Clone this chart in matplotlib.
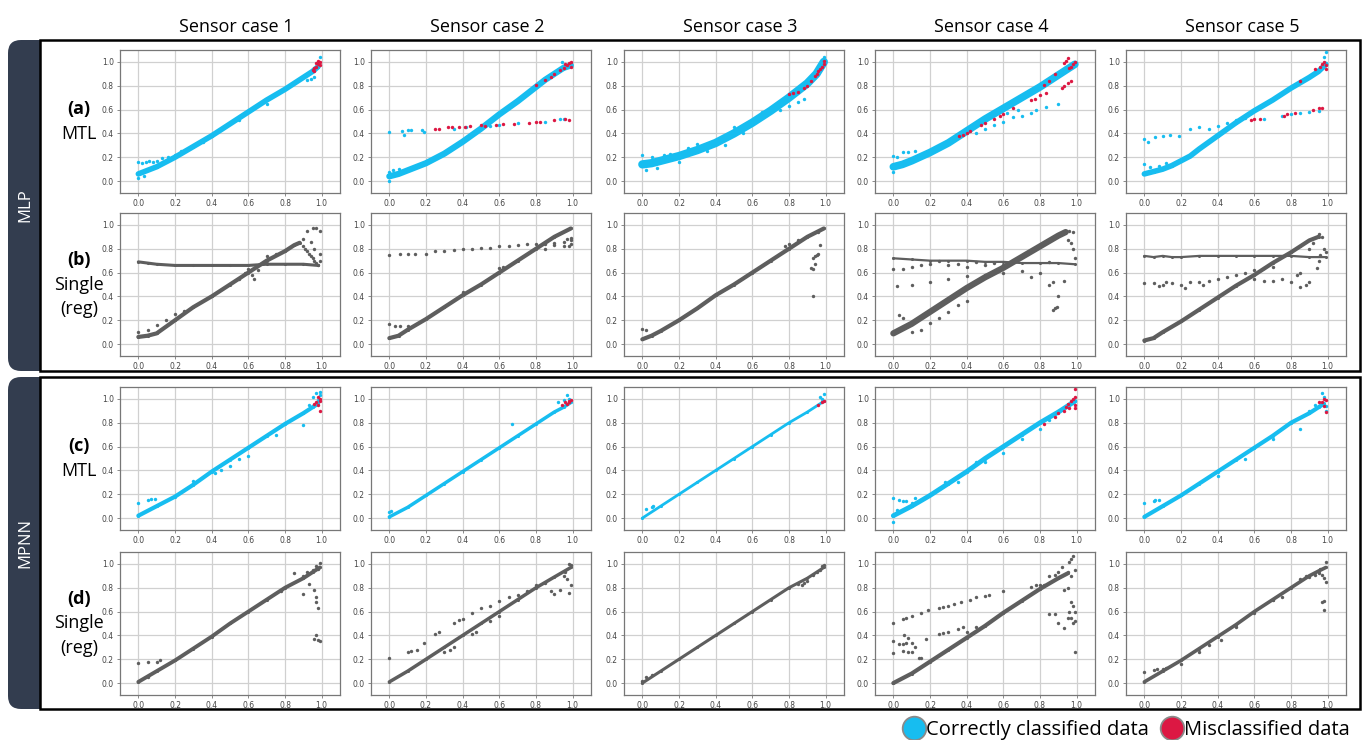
import matplotlib
matplotlib.use("Agg")
import matplotlib.pyplot as plt
from matplotlib.patches import FancyBboxPatch, Rectangle
from matplotlib.lines import Line2D
import numpy as np

plt.rcParams["font.family"] = ["Open Sans", "DejaVu Sans"]

BLUE = "#17bdf0"
RED = "#dc1843"
GREY = "#5e5e5e"

COLUMNS = ["Sensor case 1", "Sensor case 2", "Sensor case 3", "Sensor case 4", "Sensor case 5"]
MODELS = ["MLP", "MPNN"]
ROW_TAGS = ["(a)", "(b)", "(c)", "(d)"]
ROW_NAMES = [["MTL"], ["Single", "(reg)"], ["MTL"], ["Single", "(reg)"]]
TICKS = [0.0, 0.2, 0.4, 0.6, 0.8, 1.0]
LEGEND_LABELS = ["Correctly classified data", "Misclassified data"]

# ---- MLP / MTL (row a) ----
A1_BAND = [(0, 0.06), (0.05, 0.09), (0.1, 0.12), (0.2, 0.2), (0.3, 0.29), (0.4, 0.38), (0.5, 0.48),
           (0.6, 0.58), (0.7, 0.68), (0.8, 0.77), (0.9, 0.87), (0.95, 0.92), (0.98, 0.96)]
A1_DOTS = [(0, 0.16), (0.02, 0.15), (0.04, 0.16), (0.06, 0.17), (0.08, 0.16), (0.1, 0.17), (0.13, 0.19),
           (0.16, 0.2), (0.2, 0.22), (0.23, 0.25), (0.92, 0.85), (0.94, 0.86), (0.96, 0.87), (0.99, 1.04),
           (0, 0.03), (0.03, 0.04), (0.35, 0.33), (0.55, 0.51), (0.7, 0.65)]
A1_RED = [(0.95, 0.93), (0.96, 0.95), (0.97, 0.96), (0.98, 0.98), (0.99, 1.0), (0.98, 1.01), (0.99, 0.97),
          (0.97, 0.99), (0.96, 0.92)]

A2_BAND = [(0, 0.04), (0.05, 0.06), (0.1, 0.09), (0.2, 0.15), (0.3, 0.23), (0.4, 0.33), (0.5, 0.44),
           (0.55, 0.5), (0.6, 0.56), (0.7, 0.67), (0.8, 0.79), (0.85, 0.85), (0.9, 0.9), (0.95, 0.95), (0.99, 0.97)]
A2_DOTS = [(0, 0.41), (0.07, 0.42), (0.08, 0.39), (0.1, 0.43), (0.12, 0.43), (0.18, 0.43), (0.19, 0.41),
           (0.35, 0.44), (0.42, 0.45), (0.55, 0.46), (0.6, 0.47), (0.7, 0.49), (0.85, 0.5), (0.93, 0.52),
           (0.95, 0.52), (0, 0.08), (0, 0.0), (0.94, 1.0), (0.02, 0.09), (0.05, 0.1)]
A2_RED = [(0.25, 0.44), (0.27, 0.44), (0.32, 0.45), (0.34, 0.45), (0.38, 0.45), (0.41, 0.45), (0.44, 0.46),
          (0.5, 0.47), (0.52, 0.46), (0.58, 0.47), (0.62, 0.48), (0.68, 0.48), (0.76, 0.49), (0.8, 0.5),
          (0.82, 0.5), (0.9, 0.51), (0.96, 0.52), (0.98, 0.51), (0.8, 0.81), (0.85, 0.85), (0.88, 0.87),
          (0.9, 0.9), (0.93, 0.93), (0.95, 0.95), (0.97, 0.97), (0.98, 0.99), (0.99, 0.96), (0.96, 0.98), (0.99, 1.0)]

A3_BAND = [(0, 0.14), (0.05, 0.15), (0.1, 0.17), (0.2, 0.21), (0.3, 0.26), (0.4, 0.32), (0.5, 0.4),
           (0.6, 0.49), (0.7, 0.59), (0.8, 0.7), (0.9, 0.82), (0.95, 0.9), (0.99, 1.0)]
A3_DOTS = [(0, 0.22), (0.02, 0.09), (0.05, 0.2), (0.12, 0.22), (0.2, 0.16), (0.3, 0.31), (0.45, 0.3),
           (0.75, 0.6), (0.8, 0.63), (0.85, 0.66), (0.88, 0.69), (0.99, 1.04), (0.08, 0.11), (0.15, 0.23),
           (0.25, 0.28), (0.35, 0.25), (0.5, 0.45), (0.55, 0.4), (0.65, 0.58)]
A3_RED = [(0.8, 0.73), (0.82, 0.74), (0.85, 0.75), (0.88, 0.78), (0.9, 0.8), (0.92, 0.84), (0.94, 0.88),
          (0.95, 0.9), (0.96, 0.92), (0.97, 0.94), (0.98, 0.96), (0.99, 0.98), (0.99, 1.01)]

A4_BAND = [(0, 0.12), (0.05, 0.14), (0.1, 0.17), (0.2, 0.24), (0.3, 0.32), (0.4, 0.42), (0.5, 0.52),
           (0.6, 0.61), (0.7, 0.7), (0.8, 0.79), (0.9, 0.89), (0.95, 0.94), (0.99, 0.98)]
A4_DOTS = [(0.45, 0.4), (0.5, 0.44), (0.55, 0.47), (0.6, 0.5), (0.65, 0.54), (0.7, 0.55), (0.75, 0.57),
           (0.78, 0.6), (0.83, 0.62), (0.9, 0.65), (0, 0.21), (0.02, 0.2), (0.05, 0.24), (0.08, 0.24),
           (0.12, 0.25), (0, 0.08), (0.62, 0.57), (0.68, 0.6)]
A4_RED = [(0.36, 0.38), (0.38, 0.39), (0.4, 0.4), (0.42, 0.42), (0.48, 0.47), (0.5, 0.49), (0.55, 0.52),
          (0.58, 0.55), (0.6, 0.56), (0.65, 0.61), (0.75, 0.68), (0.77, 0.69), (0.8, 0.72), (0.83, 0.74),
          (0.82, 0.81), (0.85, 0.84), (0.88, 0.9), (0.92, 0.78), (0.93, 0.8), (0.95, 0.82), (0.97, 0.84),
          (0.93, 0.99), (0.95, 1.03), (0.94, 1.01), (0.97, 0.96), (0.98, 0.98), (0.99, 1.0), (0.96, 0.95)]

A5_BAND = [(0, 0.06), (0.05, 0.08), (0.1, 0.1), (0.15, 0.13), (0.2, 0.17), (0.25, 0.21), (0.3, 0.27),
           (0.4, 0.38), (0.5, 0.49), (0.6, 0.59), (0.7, 0.68), (0.8, 0.78), (0.9, 0.87), (0.95, 0.92), (0.99, 0.98)]
A5_DOTS = [(0, 0.35), (0.02, 0.33), (0.06, 0.37), (0.1, 0.38), (0.14, 0.39), (0.19, 0.38), (0.25, 0.44),
           (0.3, 0.45), (0.35, 0.44), (0.4, 0.46), (0.45, 0.49), (0.5, 0.51), (0.55, 0.53), (0.65, 0.52),
           (0.75, 0.55), (0.8, 0.56), (0.85, 0.57), (0.9, 0.58), (0.95, 0.59), (0.99, 1.08), (0.98, 1.04),
           (0, 0.14), (0.03, 0.12), (0.08, 0.13), (0.12, 0.15)]
A5_RED = [(0.58, 0.51), (0.6, 0.52), (0.63, 0.52), (0.76, 0.55), (0.78, 0.56), (0.82, 0.57), (0.92, 0.6),
          (0.95, 0.61), (0.97, 0.61), (0.85, 0.84), (0.93, 0.94), (0.96, 0.96), (0.97, 0.98), (0.98, 1.0),
          (0.99, 0.97), (0.99, 0.94)]

# ---- MLP / Single (row b) ----
B1_BAND = [(0, 0.06), (0.05, 0.07), (0.1, 0.09), (0.2, 0.2), (0.3, 0.31), (0.4, 0.4), (0.5, 0.5),
           (0.6, 0.6), (0.7, 0.7), (0.8, 0.78), (0.85, 0.83), (0.88, 0.85)]
B1_TRACK = [(0, 0.69), (0.05, 0.68), (0.1, 0.67), (0.2, 0.66), (0.3, 0.66), (0.4, 0.66), (0.5, 0.66),
            (0.6, 0.66), (0.7, 0.67), (0.8, 0.67), (0.9, 0.67), (0.98, 0.66)]
B1_DOTS = [(0, 0.1), (0.05, 0.12), (0.1, 0.16), (0.15, 0.2), (0.92, 0.95), (0.95, 0.97), (0.97, 0.97),
           (0.99, 0.95), (0.6, 0.63), (0.62, 0.58), (0.65, 0.62), (0.58, 0.6), (0.55, 0.55), (0.63, 0.55),
           (0.94, 0.86), (0.96, 0.8), (0.99, 0.76), (0.99, 0.7), (0.9, 0.82), (0.91, 0.8), (0.92, 0.78),
           (0.93, 0.76), (0.94, 0.74), (0.95, 0.72), (0.96, 0.7), (0.97, 0.68), (0.98, 0.66), (0.9, 0.88),
           (0.2, 0.25), (0.25, 0.28), (0.7, 0.74), (0.75, 0.76)]

B2_BAND = [(0, 0.05), (0.05, 0.07), (0.1, 0.12), (0.2, 0.21), (0.3, 0.31), (0.4, 0.41), (0.5, 0.5),
           (0.6, 0.6), (0.7, 0.7), (0.8, 0.8), (0.9, 0.9), (0.99, 0.97)]
B2_DOTS = [(0, 0.75), (0.06, 0.76), (0.1, 0.76), (0.14, 0.76), (0.2, 0.76), (0.25, 0.78), (0.3, 0.78),
           (0.35, 0.79), (0.4, 0.8), (0.45, 0.8), (0.5, 0.81), (0.55, 0.81), (0.6, 0.82), (0.65, 0.82),
           (0.7, 0.83), (0.75, 0.84), (0.8, 0.84), (0.85, 0.84), (0.9, 0.85), (0.95, 0.86), (0.99, 0.87),
           (0.85, 0.8), (0.9, 0.83), (0.95, 0.82), (0.98, 0.82), (0.99, 0.84), (0.99, 0.89), (0.97, 0.88),
           (0, 0.17), (0.03, 0.15), (0.06, 0.15), (0.1, 0.15), (0.4, 0.44), (0.6, 0.64), (0.62, 0.65)]

B3_BAND = [(0, 0.04), (0.05, 0.07), (0.1, 0.11), (0.2, 0.2), (0.3, 0.3), (0.4, 0.41), (0.5, 0.5),
           (0.6, 0.6), (0.7, 0.7), (0.8, 0.8), (0.9, 0.9), (0.99, 0.97)]
B3_DOTS = [(0, 0.13), (0.02, 0.12), (0.78, 0.82), (0.8, 0.84), (0.85, 0.87), (0.93, 0.72), (0.94, 0.67),
           (0.92, 0.64), (0.93, 0.63), (0.95, 0.75), (0.96, 0.76), (0.97, 0.83), (0.93, 0.4), (0.94, 0.74),
           (0.96, 0.94)]

B4_BAND = [(0, 0.09), (0.1, 0.17), (0.2, 0.27), (0.3, 0.37), (0.4, 0.47), (0.5, 0.56), (0.6, 0.64),
           (0.7, 0.73), (0.8, 0.82), (0.9, 0.91), (0.94, 0.94)]
B4_TRACK = [(0, 0.72), (0.1, 0.71), (0.2, 0.7), (0.3, 0.7), (0.4, 0.7), (0.5, 0.69), (0.6, 0.69),
            (0.7, 0.68), (0.8, 0.68), (0.9, 0.68), (0.99, 0.67)]
B4_DOTS = [(0, 0.63), (0.05, 0.63), (0.1, 0.65), (0.15, 0.66), (0.2, 0.67), (0.3, 0.66), (0.4, 0.65),
           (0.5, 0.66), (0.6, 0.66), (0.02, 0.49), (0.1, 0.5), (0.2, 0.52), (0.3, 0.55), (0.4, 0.57),
           (0.5, 0.58), (0.6, 0.6), (0.7, 0.61), (0.75, 0.56), (0.8, 0.6), (0.85, 0.5), (0.87, 0.52),
           (0.95, 0.87), (0.97, 0.85), (0.98, 0.8), (0.99, 0.72), (0.93, 0.53), (0.9, 0.4), (0.88, 0.3),
           (0.87, 0.29), (0.89, 0.31), (0.1, 0.1), (0.15, 0.12), (0.2, 0.18), (0.25, 0.22), (0.3, 0.27),
           (0.35, 0.33), (0.4, 0.36), (0.03, 0.24), (0.05, 0.22), (0.96, 0.95), (0.98, 0.94),
           (0.25, 0.7), (0.45, 0.69), (0.65, 0.7), (0.85, 0.69), (0.35, 0.67), (0.55, 0.68)]

B5_BAND = [(0, 0.03), (0.05, 0.05), (0.1, 0.1), (0.2, 0.19), (0.3, 0.29), (0.4, 0.39), (0.5, 0.49),
           (0.6, 0.58), (0.7, 0.68), (0.8, 0.77), (0.85, 0.82), (0.9, 0.87), (0.95, 0.9)]
B5_TRACK = [(0, 0.74), (0.05, 0.73), (0.1, 0.74), (0.15, 0.73), (0.2, 0.73), (0.3, 0.74), (0.4, 0.74),
            (0.5, 0.74), (0.6, 0.74), (0.7, 0.74), (0.8, 0.74), (0.9, 0.73), (0.99, 0.73)]
B5_DOTS = [(0, 0.51), (0.05, 0.51), (0.1, 0.5), (0.15, 0.51), (0.2, 0.5), (0.25, 0.52), (0.3, 0.52),
           (0.35, 0.53), (0.4, 0.55), (0.45, 0.56), (0.5, 0.58), (0.55, 0.6), (0.6, 0.62), (0.65, 0.64),
           (0.7, 0.65), (0.6, 0.55), (0.65, 0.53), (0.7, 0.53), (0.75, 0.55), (0.8, 0.52), (0.85, 0.48),
           (0.88, 0.5), (0.9, 0.52), (0.83, 0.58), (0.85, 0.6), (0.9, 0.8), (0.92, 0.85), (0.95, 0.92),
           (0.97, 0.9), (0.98, 0.8), (0.96, 0.75), (0.95, 0.7), (0.94, 0.64), (0.99, 0.77),
           (0.08, 0.49), (0.12, 0.52), (0.22, 0.47), (0.32, 0.5)]

# ---- MPNN / MTL (row c) ----
C1_BAND = [(0, 0.02), (0.1, 0.1), (0.2, 0.18), (0.3, 0.28), (0.4, 0.39), (0.5, 0.49), (0.6, 0.59),
           (0.7, 0.69), (0.8, 0.79), (0.9, 0.88), (0.95, 0.93), (0.98, 0.96)]
C1_DOTS = [(0, 0.13), (0.05, 0.15), (0.07, 0.16), (0.09, 0.16), (0.3, 0.31), (0.42, 0.38), (0.45, 0.4),
           (0.5, 0.44), (0.55, 0.5), (0.6, 0.52), (0.75, 0.7), (0.9, 0.78), (0.93, 0.95), (0.95, 1.02),
           (0.97, 1.05), (0.99, 1.06), (0.98, 0.99), (0.99, 1.03)]
C1_RED = [(0.96, 0.96), (0.97, 0.97), (0.98, 0.95), (0.99, 0.98), (0.99, 1.0), (0.98, 1.02), (0.99, 0.9)]

C2_BAND = [(0, 0.01), (0.1, 0.09), (0.2, 0.19), (0.3, 0.29), (0.4, 0.39), (0.5, 0.49), (0.6, 0.59),
           (0.7, 0.69), (0.8, 0.79), (0.9, 0.89), (0.95, 0.93), (0.99, 0.97)]
C2_DOTS = [(0, 0.05), (0.01, 0.06), (0.67, 0.79), (0.92, 0.97), (0.95, 0.99), (0.97, 1.03), (0.98, 1.0)]
C2_RED = [(0.94, 0.95), (0.96, 0.97), (0.97, 0.96), (0.98, 0.97), (0.99, 0.99), (0.98, 0.98)]

C3_BAND = [(0, 0.0), (0.1, 0.1), (0.2, 0.2), (0.3, 0.3), (0.4, 0.4), (0.5, 0.5), (0.6, 0.6),
           (0.7, 0.7), (0.8, 0.8), (0.9, 0.89), (0.99, 0.98)]
C3_DOTS = [(0.02, 0.08), (0.05, 0.09), (0.06, 0.1), (0.98, 1.0), (0.99, 1.04), (0.97, 1.02)]
C3_RED = [(0.96, 0.95), (0.98, 0.97), (0.99, 0.98)]

C4_BAND = [(0, 0.02), (0.1, 0.1), (0.2, 0.19), (0.3, 0.29), (0.4, 0.39), (0.5, 0.5), (0.6, 0.6),
           (0.7, 0.7), (0.8, 0.8), (0.9, 0.89), (0.95, 0.94), (0.99, 0.98)]
C4_DOTS = [(0, 0.17), (0.03, 0.15), (0.05, 0.14), (0.07, 0.14), (0.1, 0.13), (0.12, 0.17), (0, -0.03),
           (0.02, 0.07), (0.35, 0.3), (0.5, 0.47), (0.6, 0.55), (0.7, 0.66), (0.8, 0.75), (0.85, 0.82),
           (0.28, 0.3), (0.45, 0.47)]
C4_RED = [(0.82, 0.79), (0.88, 0.85), (0.9, 0.88), (0.93, 0.9), (0.94, 0.93), (0.95, 0.96), (0.96, 0.92),
          (0.97, 0.98), (0.98, 1.0), (0.99, 1.02), (0.99, 1.08), (0.99, 0.95), (0.99, 0.92)]

C5_BAND = [(0, 0.01), (0.1, 0.1), (0.2, 0.19), (0.3, 0.29), (0.4, 0.39), (0.5, 0.49), (0.6, 0.59),
           (0.7, 0.69), (0.8, 0.8), (0.9, 0.88), (0.95, 0.93), (0.98, 0.96)]
C5_DOTS = [(0, 0.13), (0.05, 0.14), (0.06, 0.15), (0.08, 0.15), (0.4, 0.35), (0.55, 0.5), (0.7, 0.66),
           (0.85, 0.75), (0.9, 0.9), (0.93, 0.95), (0.97, 1.05), (0.98, 1.02), (0.99, 0.9), (0.99, 0.94)]
C5_RED = [(0.95, 0.97), (0.97, 0.97), (0.98, 1.0), (0.99, 0.99), (0.98, 0.94), (0.99, 0.89)]

# ---- MPNN / Single (row d) ----
D1_BAND = [(0, 0.01), (0.1, 0.1), (0.2, 0.19), (0.3, 0.29), (0.4, 0.39), (0.5, 0.5), (0.6, 0.6),
           (0.7, 0.7), (0.8, 0.8), (0.9, 0.88), (0.95, 0.93), (0.99, 0.97)]
D1_DOTS = [(0, 0.17), (0.05, 0.18), (0.1, 0.18), (0.12, 0.19), (0.05, 0.05), (0.9, 0.9), (0.92, 0.93),
           (0.95, 0.95), (0.97, 0.98), (0.99, 1.01), (0.98, 0.96), (0.85, 0.92), (0.9, 0.75), (0.93, 0.83),
           (0.96, 0.78), (0.97, 0.72), (0.97, 0.68), (0.98, 0.63), (0.97, 0.4), (0.98, 0.36), (0.99, 0.35),
           (0.96, 0.37), (0.78, 0.77)]

D2_BAND = [(0, 0.01), (0.1, 0.1), (0.2, 0.2), (0.3, 0.3), (0.4, 0.4), (0.5, 0.5), (0.6, 0.6),
           (0.7, 0.7), (0.8, 0.8), (0.9, 0.89), (0.99, 0.97)]
D2_DOTS = [(0, 0.21), (0.1, 0.26), (0.12, 0.27), (0.15, 0.28), (0.19, 0.34), (0.25, 0.41), (0.27, 0.43),
           (0.35, 0.5), (0.38, 0.53), (0.4, 0.54), (0.45, 0.59), (0.5, 0.63), (0.55, 0.65), (0.6, 0.69),
           (0.65, 0.72), (0.7, 0.74), (0.75, 0.77), (0.8, 0.82), (0.85, 0.84), (0.3, 0.26), (0.33, 0.28),
           (0.35, 0.3), (0.45, 0.41), (0.47, 0.43), (0.55, 0.52), (0.6, 0.56), (0.88, 0.77), (0.9, 0.75),
           (0.93, 0.78), (0.98, 0.76), (0.99, 0.82), (0.97, 0.87), (0.95, 0.9), (0.96, 0.93), (0.98, 1.0),
           (0.99, 0.99)]

D3_BAND = [(0, 0.0), (0.1, 0.1), (0.2, 0.2), (0.3, 0.3), (0.4, 0.4), (0.5, 0.5), (0.6, 0.6),
           (0.7, 0.7), (0.8, 0.8), (0.9, 0.88), (0.99, 0.97)]
D3_DOTS = [(0, 0.02), (0.02, 0.05), (0.05, 0.07), (0.85, 0.83), (0.88, 0.84), (0.9, 0.86), (0.93, 0.91),
           (0.95, 0.93), (0.97, 0.95), (0.99, 0.99), (0.98, 0.98), (0.87, 0.82)]

D4_BAND = [(0, 0.0), (0.1, 0.08), (0.2, 0.18), (0.3, 0.28), (0.4, 0.38), (0.5, 0.48), (0.6, 0.59),
           (0.7, 0.69), (0.8, 0.79), (0.9, 0.88), (0.95, 0.92)]
D4_DOTS = [(0, 0.5), (0.05, 0.54), (0.07, 0.55), (0.1, 0.56), (0.15, 0.59), (0.19, 0.61), (0.25, 0.63),
           (0.27, 0.64), (0.3, 0.65), (0.33, 0.66), (0.37, 0.68), (0.42, 0.7), (0.45, 0.72), (0.5, 0.73),
           (0.52, 0.74), (0, 0.35), (0, 0.25), (0.03, 0.33), (0.05, 0.33), (0.07, 0.34), (0.1, 0.34),
           (0.12, 0.3), (0.05, 0.27), (0.08, 0.26), (0.1, 0.26), (0.14, 0.21), (0.15, 0.21), (0.06, 0.4),
           (0.08, 0.38), (0.18, 0.37), (0.25, 0.41), (0.3, 0.43), (0.27, 0.42), (0.35, 0.45), (0.38, 0.47),
           (0.4, 0.43), (0.45, 0.47), (0.75, 0.81), (0.8, 0.82), (0.85, 0.9), (0.88, 0.91), (0.9, 0.93),
           (0.92, 0.97), (0.95, 0.93), (0.97, 0.9), (0.99, 0.95), (0.96, 1.02), (0.97, 1.04), (0.98, 1.07),
           (0.95, 0.8), (0.93, 0.78), (0.97, 0.68), (0.98, 0.65), (0.99, 0.6), (0.97, 0.55), (0.98, 0.5),
           (0.93, 0.46), (0.9, 0.5), (0.88, 0.58), (0.85, 0.58), (0.95, 0.55), (0.99, 0.26), (0.96, 0.6),
           (0.99, 0.52), (0.82, 0.82), (0.78, 0.82), (0.6, 0.77)]

D5_BAND = [(0, 0.01), (0.1, 0.1), (0.2, 0.19), (0.3, 0.29), (0.4, 0.39), (0.5, 0.49), (0.6, 0.6),
           (0.7, 0.7), (0.8, 0.8), (0.9, 0.9), (0.95, 0.94), (0.99, 0.97)]
D5_DOTS = [(0, 0.09), (0.05, 0.11), (0.07, 0.12), (0.1, 0.12), (0.12, 0.13), (0.2, 0.16), (0.3, 0.26),
           (0.35, 0.32), (0.42, 0.36), (0.5, 0.47), (0.6, 0.59), (0.7, 0.7), (0.75, 0.72), (0.85, 0.87),
           (0.88, 0.9), (0.9, 0.89), (0.93, 0.91), (0.95, 0.92), (0.97, 0.91), (0.98, 0.88), (0.99, 0.85),
           (0.97, 0.68), (0.98, 0.69), (0.98, 0.61), (0.99, 1.02), (0.96, 0.96)]

# panel contents: (band lines, stray dots, misclassified dots)
PANELS = [
    [([A1_BAND], A1_DOTS, A1_RED), ([A2_BAND], A2_DOTS, A2_RED), ([A3_BAND], A3_DOTS, A3_RED),
     ([A4_BAND], A4_DOTS, A4_RED), ([A5_BAND], A5_DOTS, A5_RED)],
    [([B1_BAND, B1_TRACK], B1_DOTS, []), ([B2_BAND], B2_DOTS, []), ([B3_BAND], B3_DOTS, []),
     ([B4_BAND, B4_TRACK], B4_DOTS, []), ([B5_BAND, B5_TRACK], B5_DOTS, [])],
    [([C1_BAND], C1_DOTS, C1_RED), ([C2_BAND], C2_DOTS, C2_RED), ([C3_BAND], C3_DOTS, C3_RED),
     ([C4_BAND], C4_DOTS, C4_RED), ([C5_BAND], C5_DOTS, C5_RED)],
    [([D1_BAND], D1_DOTS, []), ([D2_BAND], D2_DOTS, []), ([D3_BAND], D3_DOTS, []),
     ([D4_BAND], D4_DOTS, []), ([D5_BAND], D5_DOTS, [])],
]

# line widths (pt) of the dense bands, same layout as PANELS
BAND_LW = [
    [[4], [4.5], [6], [5.5], [4]],
    [[3, 2.2], [3], [3], [4.5, 1.6], [3, 1.6]],
    [[3], [2.5], [2], [3.5], [3]],
    [[2.8], [2.5], [2.2], [3], [2.6]],
]
ROW_COLOR = [BLUE, GREY, BLUE, GREY]

# layout in pixels
W, H = 1370, 740
COL_LEFT = [120, 371, 624, 875, 1126]
ROW_TOP = [50, 213, 387, 552]
AX_W, AX_H = 220, 143

fig = plt.figure(figsize=(W / 100, H / 100), dpi=100)

bg = fig.add_axes([0, 0, 1, 1], zorder=0)
bg.set_xlim(0, W)
bg.set_ylim(H, 0)
bg.axis("off")

# group boxes with dark side tabs
for (top, bottom), name in zip([(40, 371), (377, 709)], MODELS):
    bg.add_patch(FancyBboxPatch((8, top), 60, bottom - top, boxstyle="round,pad=0,rounding_size=13",
                                fc="#333d4f", ec="none"))
    bg.add_patch(Rectangle((40, top), 1320, bottom - top, fc="white", ec="black", lw=1.8))
    bg.text(25, (top + bottom) / 2, name, rotation=90, color="white", fontsize=12,
            ha="center", va="center")

for i, title in enumerate(COLUMNS):
    bg.text(COL_LEFT[i] + AX_W / 2 + 6, 27, title, fontsize=13, ha="center", va="center")

for r in range(4):
    cy = ROW_TOP[r] + AX_H / 2
    lines = [ROW_TAGS[r]] + ROW_NAMES[r]
    offs = np.arange(len(lines)) * 24.5
    offs = offs - offs.mean()
    for j, s in enumerate(lines):
        bg.text(79, cy + offs[j], s, fontsize=13, ha="center", va="center",
                fontweight="bold" if j == 0 else "normal")

for r in range(4):
    for c in range(5):
        ax = fig.add_axes([COL_LEFT[c] / W, 1 - (ROW_TOP[r] + AX_H) / H, AX_W / W, AX_H / H], zorder=2)
        bands, dots, red = PANELS[r][c]
        col = ROW_COLOR[r]
        for pts, lw in zip(bands, BAND_LW[r][c]):
            x, y = np.array(pts).T
            ax.plot(x, y, color=col, lw=lw, solid_capstyle="round", zorder=2)
            ax.scatter(x, y, s=5, color=col, lw=0, zorder=3)
        if dots:
            x, y = np.array(dots).T
            ax.scatter(x, y, s=6, color=col, lw=0, zorder=3)
        if red:
            x, y = np.array(red).T
            ax.scatter(x, y, s=6, color=RED, lw=0, zorder=4)
        ax.set_xlim(-0.1, 1.1)
        ax.set_ylim(-0.1, 1.1)
        ax.set_xticks(TICKS)
        ax.set_yticks(TICKS)
        ax.set_xticklabels([f"{t:.1f}" for t in TICKS])
        ax.set_yticklabels([f"{t:.1f}" for t in TICKS])
        ax.tick_params(labelsize=5.5, labelcolor="#444444", color="#777777", length=2.5, width=0.6, pad=2)
        for lab in ax.get_xticklabels() + ax.get_yticklabels():
            lab.set_family("DejaVu Sans")
        ax.grid(True, color="#d0d0d0", lw=0.9)
        ax.set_axisbelow(True)
        for sp in ax.spines.values():
            sp.set_color("#777777")
            sp.set_linewidth(0.9)

handles = [Line2D([], [], ls="", marker="o", markersize=17, markerfacecolor=c,
                  markeredgecolor="#8a8a8a", markeredgewidth=1.3) for c in [BLUE, RED]]
fig.legend(handles, LEGEND_LABELS, loc="lower right", bbox_to_anchor=(1362 / W, -0.016), ncol=2,
           frameon=False, fontsize=14.5, handletextpad=0.05, columnspacing=0.6, handlelength=1.1,
           borderaxespad=0.2)

fig.savefig("out.png", dpi=100, facecolor="white")
